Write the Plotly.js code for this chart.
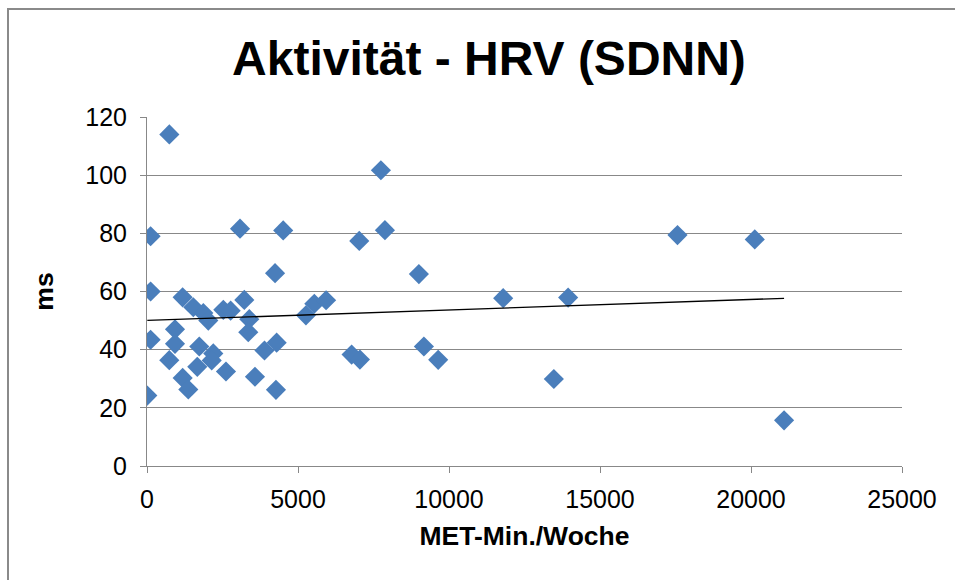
<!DOCTYPE html>
<html>
<head>
<meta charset="utf-8">
<script src="https://cdn.plot.ly/plotly-3.0.1.min.js"></script>
<style>
  html, body { margin: 0; padding: 0; background: #fff; }
  #wrap { position: relative; width: 955px; height: 580px; overflow: hidden; }
  #chart { width: 955px; height: 580px; }
  #frame { position: absolute; left: 7px; top: 8px; width: 2000px; height: 2000px;
           border-left: 2px solid #8a8a8a; border-top: 2px solid #8a8a8a; pointer-events: none; }
</style>
</head>
<body>
<div id="wrap">
  <div id="chart"></div>
  <div id="frame"></div>
</div>
<script>
// MET-Min./Woche (x) and HRV SDNN in ms (y)
const metMinutes = [
  10, 120, 120, 120, 740, 738, 927, 927, 1180, 1534,
  1865, 2030, 1181, 1368, 1731, 2195, 2142, 1665, 2615, 2527,
  2770, 3080, 3222, 3387, 3354, 3575, 3890, 4293, 4270, 4240,
  4510, 5263, 5540, 5930, 6775, 7050, 7028, 7745, 7878, 9003,
  9169, 9642, 11794, 13472, 13945, 17566, 20125, 21095
];
const sdnn = [
  24.2, 79, 60, 43.4, 114, 36.4, 47, 42, 58, 54.6,
  52.6, 50, 30.3, 26.3, 41.1, 38.7, 36.3, 34.1, 32.5, 53.7,
  53.4, 81.6, 57.1, 50.5, 46, 30.7, 39.7, 42.4, 26.2, 66.3,
  81, 51.8, 55.8, 57, 38.3, 36.6, 77.4, 101.7, 81.1, 66,
  41.1, 36.5, 57.7, 29.9, 57.9, 79.4, 77.9, 15.7
];
const xTicks = [0, 5000, 10000, 15000, 20000, 25000];
const yTicks = [0, 20, 40, 60, 80, 100, 120];

// linear trend line (least squares), spanning the data range
const n = metMinutes.length;
let sx = 0, sy = 0, sxx = 0, sxy = 0;
for (let i = 0; i < n; i++) {
  sx += metMinutes[i]; sy += sdnn[i];
  sxx += metMinutes[i] * metMinutes[i]; sxy += metMinutes[i] * sdnn[i];
}
const slope = (n * sxy - sx * sy) / (n * sxx - sx * sx);
const intercept = (sy - slope * sx) / n;
const xMin = Math.min(...metMinutes), xMax = Math.max(...metMinutes);
const trendX = [xMin, xMax];
const trendY = trendX.map(v => intercept + slope * v);

const FONT = 'Liberation Sans, Arial, sans-serif';
const gridCol = '#888888';

const traces = [
  {
    x: metMinutes, y: sdnn, type: 'scatter', mode: 'markers',
    marker: { symbol: 'diamond', size: 15.5, color: '#4a7ebb', line: { width: 0 } },
    hoverinfo: 'x+y', showlegend: false
  },
  {
    x: trendX, y: trendY, type: 'scatter', mode: 'lines',
    line: { color: '#000000', width: 1.3 }, hoverinfo: 'skip', showlegend: false
  }
];

const layout = {
  width: 955, height: 580,
  paper_bgcolor: '#ffffff', plot_bgcolor: '#ffffff',
  margin: { l: 147, r: 53, t: 117, b: 114, pad: 0 },
  font: { family: FONT, color: '#000000', size: 25 },
  title: {
    text: '<b>Aktivität - HRV (SDNN)</b>',
    font: { family: FONT, size: 48, color: '#000000' },
    x: 0.512, xanchor: 'center', xref: 'container',
    y: 0.9, yanchor: 'middle', yref: 'container'
  },
  xaxis: {
    range: [0, 25000], tickvals: xTicks, ticktext: xTicks.map(String),
    showgrid: false, zeroline: false,
    showline: true, linecolor: gridCol, linewidth: 1,
    ticks: 'outside', ticklen: 6, tickcolor: gridCol, tickwidth: 1,
    ticklabelstandoff: 5,
    tickfont: { family: FONT, size: 25 },
    title: { text: '<b>MET-Min./Woche</b>', font: { family: FONT, size: 26.5 }, standoff: 14 }
  },
  yaxis: {
    range: [0, 120], tickvals: yTicks, ticktext: yTicks.map(String),
    showgrid: true, gridcolor: gridCol, gridwidth: 1, zeroline: false,
    showline: true, linecolor: gridCol, linewidth: 1,
    ticks: 'outside', ticklen: 6, tickcolor: gridCol, tickwidth: 1,
    ticklabelstandoff: 8,
    tickfont: { family: FONT, size: 25 },
    title: { text: '<b>ms</b>', font: { family: FONT, size: 26.5 }, standoff: 24 }
  }
};

Plotly.newPlot('chart', traces, layout, { staticPlot: true, displayModeBar: false });
</script>
</body>
</html>
